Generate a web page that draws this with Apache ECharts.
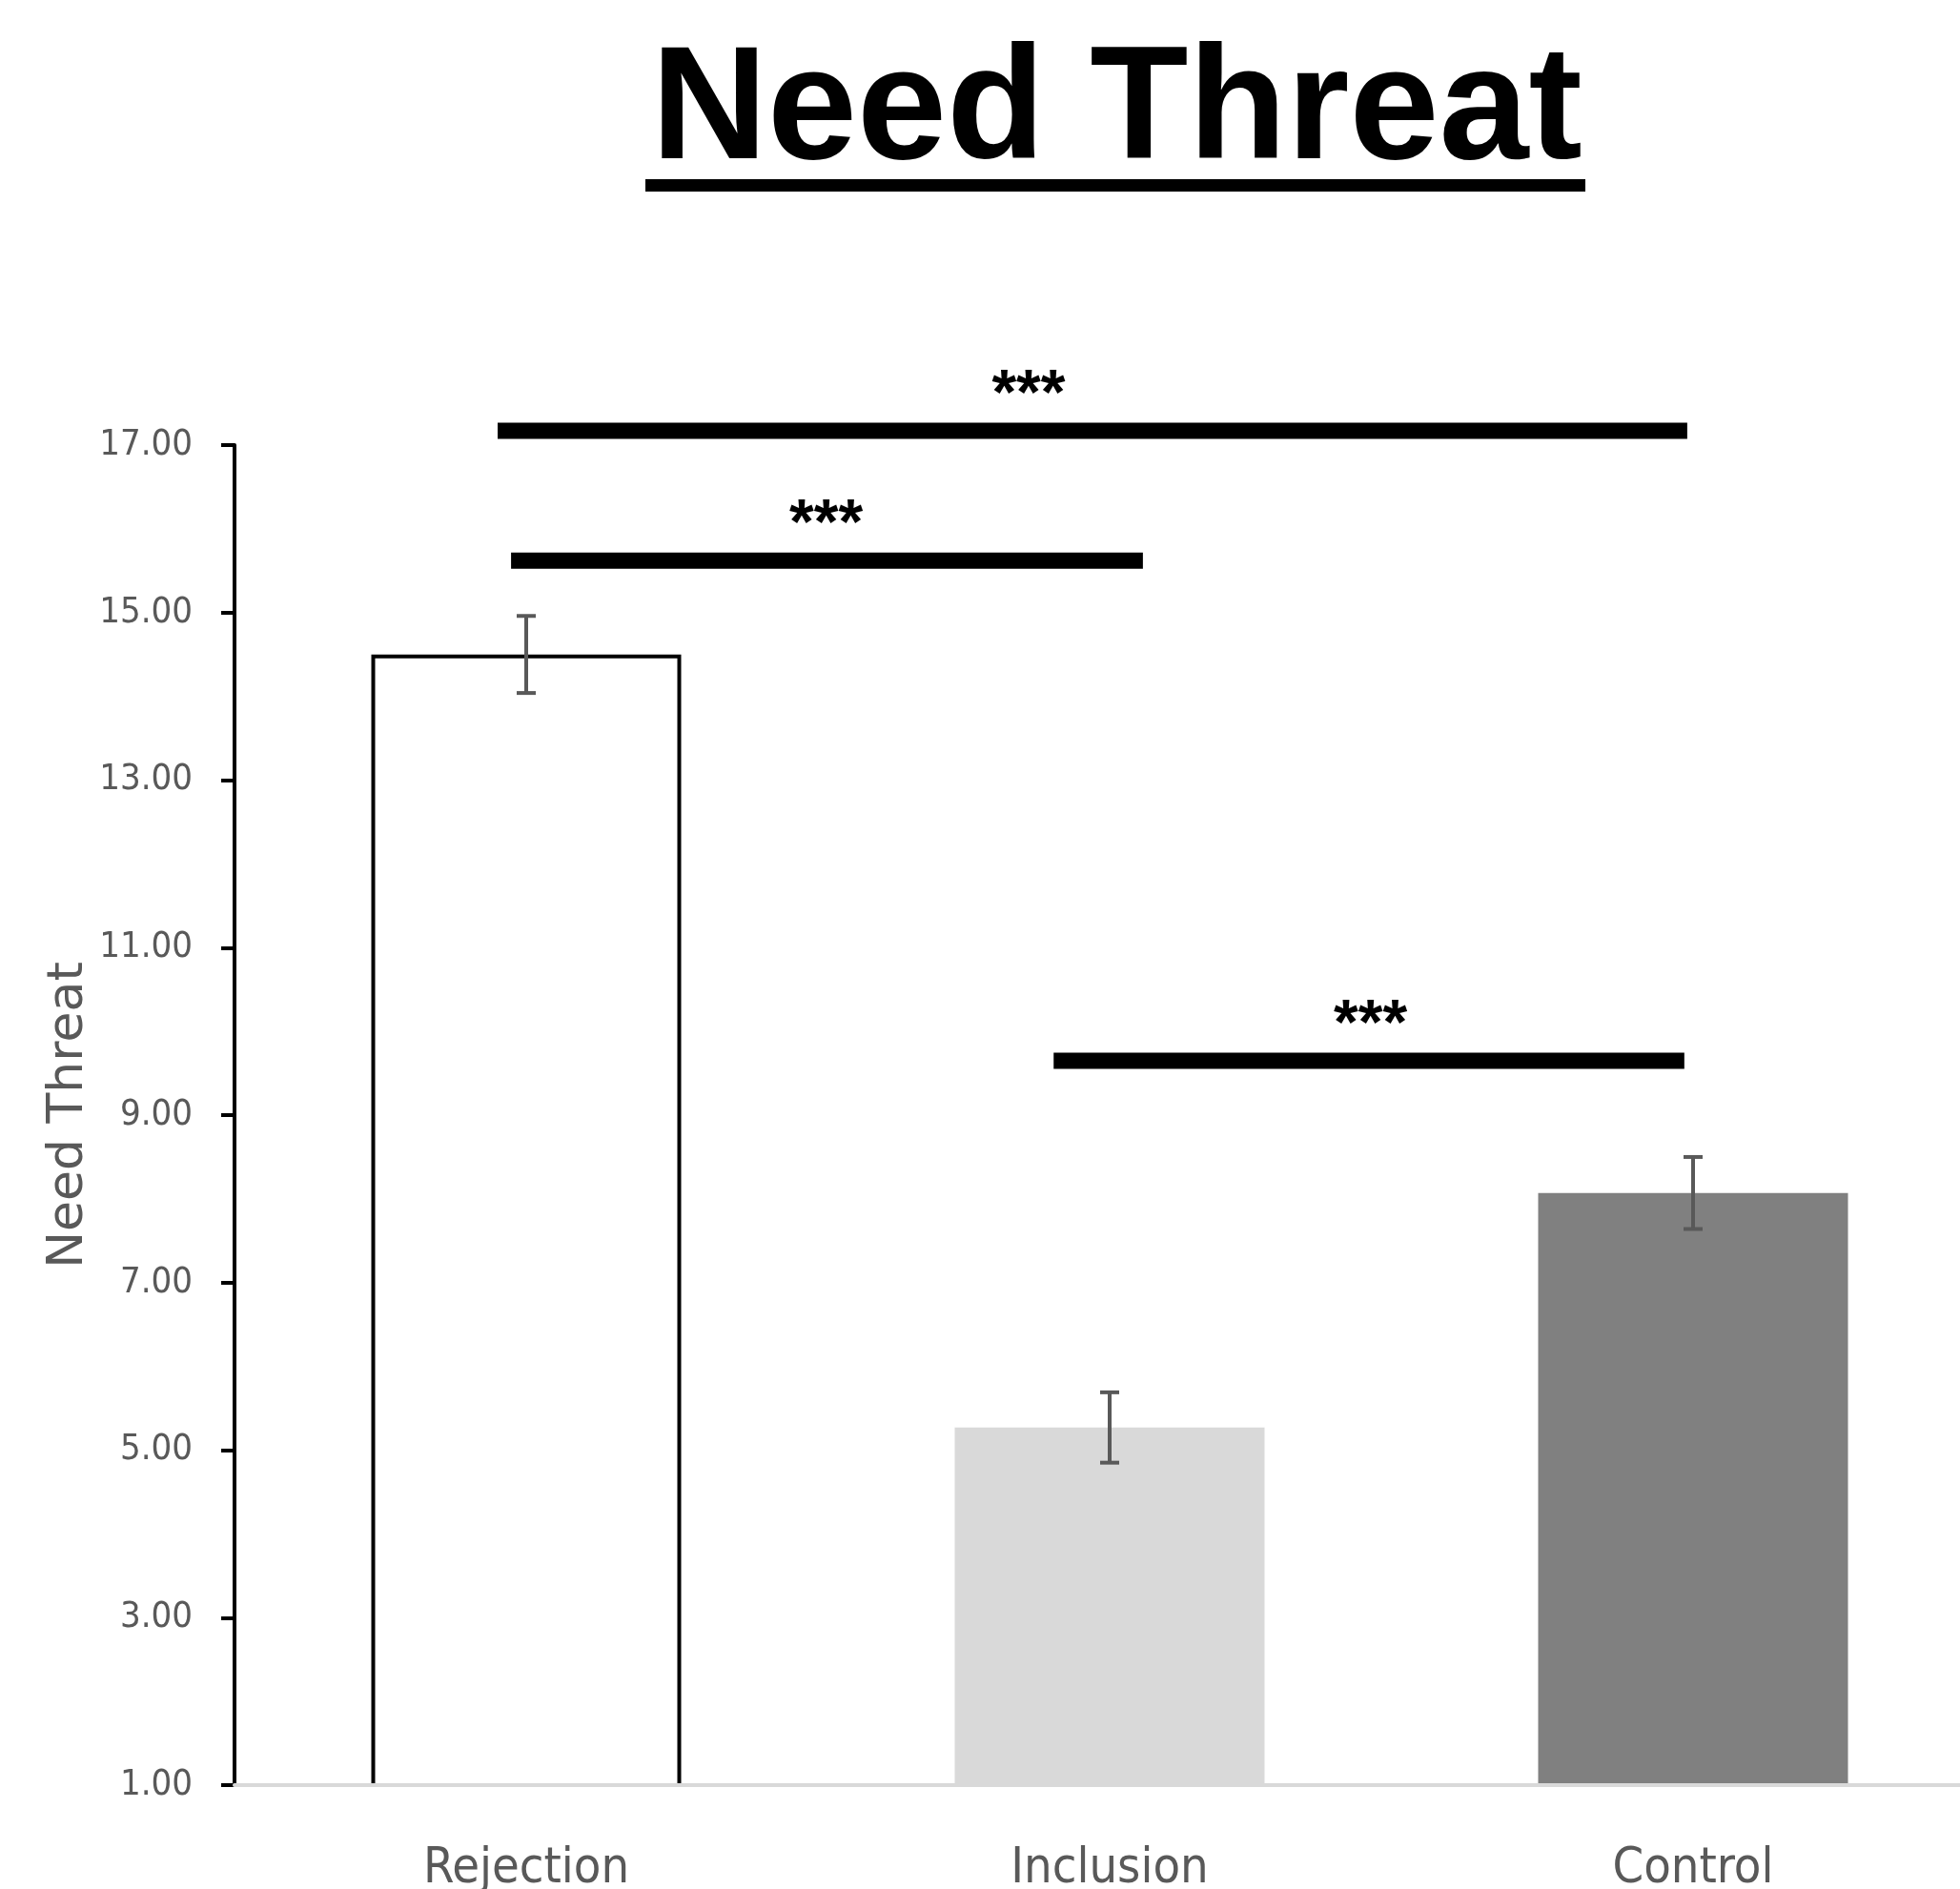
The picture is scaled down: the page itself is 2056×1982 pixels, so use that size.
<!DOCTYPE html>
<html>
<head>
<meta charset="utf-8">
<title>Need Threat</title>
<script src="https://cdn.jsdelivr.net/npm/echarts@6/dist/echarts.min.js"></script>
<style>
  html, body { margin: 0; padding: 0; background: #ffffff; }
  #chart { width: 2056px; height: 1982px; }
</style>
</head>
<body>
<div id="chart"></div>
<script>
// Conditions and mean need-threat scores with their standard errors
const categories = ['Rejection', 'Inclusion', 'Control'];
const means = [14.5, 5.27, 8.07];
const errors = [0.46, 0.42, 0.43];
const barColors = ['#ffffff', '#d9d9d9', '#808080'];

// Y axis range and tick spacing
const yMin = 1;
const yMax = 17;
const yStep = 2;

// Significance brackets: start / end position (in category units), height, star position, label
const bracketStart = [-0.049, -0.026, 0.904];
const bracketEnd = [1.99, 1.057, 1.985];
const bracketLevel = [17.17, 15.62, 9.65];
const starPos = [0.861, 0.514, 1.447];
const starText = ['***', '***', '***'];

const axisGray = '#595959';
const condensedFont = '"DejaVu Sans Condensed", "DejaVu Sans", sans-serif';

const chart = echarts.init(document.getElementById('chart'), null, { renderer: 'canvas' });

const barData = means.map((v, i) => ({
  value: v,
  itemStyle: i === 0
    ? { color: barColors[i], borderColor: '#000000', borderWidth: 4 }
    : { color: barColors[i], borderWidth: 0 }
}));

const errorData = means.map((v, i) => [i, v - errors[i], v + errors[i]]);
const bracketData = bracketStart.map((s, i) => [s, bracketEnd[i], bracketLevel[i], starPos[i], starText[i]]);

chart.setOption({
  animation: false,
  backgroundColor: '#ffffff',
  title: {
    text: 'Need Threat',
    left: 678,
    top: 30,
    textStyle: {
      fontFamily: '"Liberation Sans", Arial, sans-serif',
      fontWeight: 'bold',
      fontSize: 169,
      color: '#000000'
    }
  },
  graphic: [{
    // title underline
    type: 'rect',
    left: 677,
    top: 188,
    shape: { width: 986, height: 13 },
    style: { fill: '#000000' },
    silent: true
  }],
  grid: {
    left: 246,
    top: 467,
    width: 1836,
    bottom: 109,
    containLabel: false,
    outerBoundsMode: 'none'
  },
  xAxis: [{
    type: 'category',
    data: categories,
    z: 5,
    axisLine: { show: true, onZero: false, lineStyle: { color: '#d9d9d9', width: 4 } },
    axisTick: { show: false },
    axisLabel: {
      margin: 62,
      fontFamily: condensedFont,
      fontSize: 52,
      color: axisGray
    },
    splitLine: { show: false }
  }, {
    // continuous companion axis over the same bands, used for annotation placement
    type: 'value',
    min: -0.5,
    max: 2.5,
    show: false,
    axisLine: { onZero: false },
    splitLine: { show: false }
  }],
  yAxis: {
    type: 'value',
    min: yMin,
    max: yMax,
    interval: yStep,
    name: 'Need Threat',
    nameLocation: 'middle',
    nameRotate: 90,
    nameGap: 148,
    nameMoveOverlap: false,
    nameTextStyle: {
      fontFamily: '"DejaVu Sans", sans-serif',
      fontSize: 52,
      color: axisGray
    },
    axisLine: { show: true, onZero: false, lineStyle: { color: '#000000', width: 4 } },
    axisTick: { show: true, inside: false, length: 14, lineStyle: { color: '#000000', width: 4 } },
    axisLabel: {
      margin: 44,
      fontFamily: condensedFont,
      fontSize: 38,
      color: axisGray,
      formatter: v => v.toFixed(2)
    },
    splitLine: { show: false }
  },
  series: [{
    type: 'bar',
    xAxisIndex: 0,
    data: barData,
    barWidth: 325,
    z: 2
  }, {
    // standard-error whiskers
    type: 'custom',
    xAxisIndex: 0,
    z: 3,
    data: errorData,
    renderItem: function (params, api) {
      const idx = api.value(0);
      const lo = api.coord([idx, api.value(1)]);
      const hi = api.coord([idx, api.value(2)]);
      const half = 10;
      const style = { stroke: '#595959', lineWidth: 4, fill: null };
      return {
        type: 'group',
        children: [
          { type: 'line', shape: { x1: hi[0], y1: hi[1], x2: lo[0], y2: lo[1] }, style: style },
          { type: 'line', shape: { x1: hi[0] - half, y1: hi[1], x2: hi[0] + half, y2: hi[1] }, style: style },
          { type: 'line', shape: { x1: lo[0] - half, y1: lo[1], x2: lo[0] + half, y2: lo[1] }, style: style }
        ]
      };
    }
  }, {
    // significance brackets with stars
    type: 'custom',
    xAxisIndex: 1,
    z: 4,
    data: bracketData,
    renderItem: function (params, api) {
      const y = api.value(2);
      const p0 = api.coord([api.value(0), y]);
      const p1 = api.coord([api.value(1), y]);
      const ps = api.coord([api.value(3), y]);
      return {
        type: 'group',
        children: [
          {
            type: 'line',
            shape: { x1: p0[0], y1: p0[1], x2: p1[0], y2: p1[1] },
            style: { stroke: '#000000', lineWidth: 17, lineCap: 'butt' }
          },
          {
            type: 'text',
            x: ps[0],
            y: p0[1] - 36,
            style: {
              text: bracketData[params.dataIndex][4],
              fill: '#000000',
              font: 'bold 66px "Liberation Sans", Arial, sans-serif',
              textAlign: 'center',
              textVerticalAlign: 'middle'
            }
          }
        ]
      };
    }
  }]
});
</script>
</body>
</html>
